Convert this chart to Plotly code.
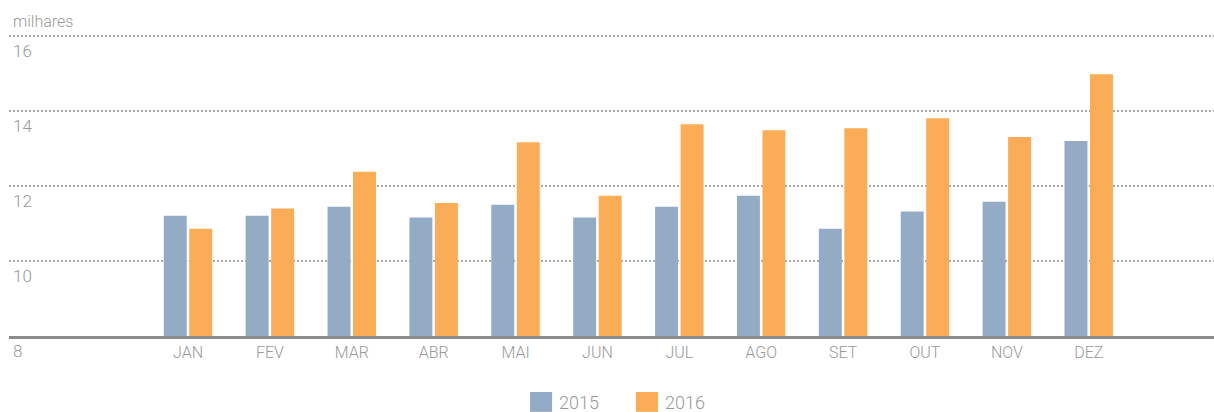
import plotly.graph_objects as go

months = ["JAN", "FEV", "MAR", "ABR", "MAI", "JUN", "JUL", "AGO", "SET", "OUT", "NOV", "DEZ"]
v2015 = [11.21, 11.21, 11.45, 11.16, 11.50, 11.16, 11.45, 11.74, 10.86, 11.32, 11.58, 13.20]
v2016 = [10.86, 11.40, 12.38, 11.55, 13.17, 11.74, 13.65, 13.49, 13.54, 13.81, 13.31, 14.98]
series_names = ["2015", "2016"]
y_ticks = [8, 10, 12, 14, 16]
unit_label = "milhares"

colors = ["#94abc6", "#faac56"]
FONT = "Roboto"
GRAY = "#999999"
W = 300

fig = go.Figure()
for name, vals, col in zip(series_names, [v2015, v2016], colors):
    fig.add_trace(go.Bar(
        x=months, y=vals, name=name,
        marker=dict(color=col, line=dict(width=0)),
        showlegend=False,
    ))

annotations = []
for t in y_ticks:
    annotations.append(dict(
        x=0, xref="paper", y=t, yref="y", text=str(t),
        xanchor="left", yanchor="top", xshift=2, yshift=-3,
        showarrow=False, font=dict(family=FONT, size=17, color=GRAY, weight=W),
    ))
annotations.append(dict(
    x=0, xref="paper", y=1.045, yref="paper", text=unit_label,
    xanchor="left", yanchor="middle", xshift=2,
    showarrow=False, font=dict(family=FONT, size=16, color=GRAY, weight=W),
))

# manual legend
shapes = []
leg_x = [0.4324, 0.5203]
for name, col, lx in zip(series_names, colors, leg_x):
    shapes.append(dict(type="rect", xref="paper", yref="paper",
                       x0=lx, x1=lx + 0.0183, y0=-0.186, y1=-0.252,
                       fillcolor=col, line=dict(width=0)))
    annotations.append(dict(
        x=lx + 0.0224, xref="paper", y=-0.222, yref="paper", text=name,
        xanchor="left", yanchor="middle", showarrow=False,
        font=dict(family=FONT, size=18, color=GRAY, weight=W),
    ))

fig.update_layout(
    width=1214, height=412,
    margin=dict(l=9, r=0, t=35, b=76),
    paper_bgcolor="white", plot_bgcolor="white",
    barmode="group", bargap=0.377, bargroupgap=0.1,
    font=dict(family=FONT, color=GRAY, size=16, weight=W),
    annotations=annotations, shapes=shapes,
    showlegend=False,
    xaxis=dict(
        type="category", range=[-2.186, 12.53],
        showline=True, linecolor="#8c8c8c", linewidth=3,
        ticks="", showgrid=False,
        tickfont=dict(family=FONT, size=16, color=GRAY, weight=W),
        fixedrange=True,
    ),
    yaxis=dict(
        range=[8, 16.03], tickvals=y_ticks[1:], showticklabels=False,
        showgrid=True, gridcolor="#a8a8a8", gridwidth=2, griddash="2px,2px",
        zeroline=False, showline=False, ticks="", fixedrange=True,
    ),
)

fig.write_html("out.html", config={"displayModeBar": False},
               post_script="document.body.style.margin='0';document.body.style.overflow='hidden';")
